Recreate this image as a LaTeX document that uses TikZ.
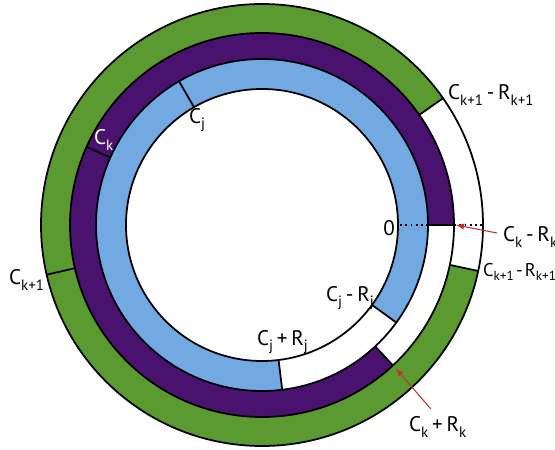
\documentclass[tikz,border=0pt]{standalone}
\usepackage{fontspec}
\setmainfont{PT Sans}
\usepackage{tikz}
\usetikzlibrary{arrows,calc,positioning}
\tikzset{>=latex}
\definecolor{ringgreen}{RGB}{90,154,48}
\definecolor{ringpurple}{RGB}{73,18,110}
\definecolor{ringblue}{RGB}{114,169,227}
\definecolor{arrowred}{RGB}{196,48,48}
\newcommand{\lowidx}[1]{\raisebox{-0.5ex}{\fontsize{8.5}{10}\selectfont #1}}
\newcommand{\smallidx}[1]{\raisebox{-0.5ex}{\fontsize{7.5}{9}\selectfont #1}}
\newcommand{\ringfont}{\fontsize{12}{14}\selectfont\spaceskip 0.18em\relax}
\newcommand{\edgefont}{\fontsize{10.5}{12}\selectfont\spaceskip 0.12em\relax}
\tikzset{
  ringline/.style={draw=black, line width=1pt},
  ringlabel/.style={anchor=west, inner sep=1pt, font=\ringfont},
  pointer/.style={->, draw=arrowred, line width=0.6pt}
}

\begin{document}
\begin{tikzpicture}[scale=0.02]
      \useasboundingbox (-262,-225) rectangle (293,225); %
      % coloured bands
      \fill[ringgreen] (35:221) arc[start angle=35, end angle=348, radius=221]
        -- (348:192) arc[start angle=348, end angle=35, radius=192] -- cycle; %
      \fill[ringpurple] (0:192) arc[start angle=0, end angle=313, radius=192]
        -- (313:166) arc[start angle=313, end angle=0, radius=166] -- cycle; %
      \fill[ringblue] (-36:166) arc[start angle=-36, end angle=277, radius=166]
        -- (277:136) arc[start angle=277, end angle=-36, radius=136] -- cycle; %
      % outlines and dividers
      \foreach \r in {136,166,192,221}
        \draw[ringline] (0,0) circle[radius=\r]; %
      \foreach \a/\ri/\ro in {120/136/166, -36/136/166, -83/136/166,
        156/166/192, -47/166/192, 0/166/192, 193/192/221, 35/192/221, -12/192/221}
        \draw[ringline] (\a:\ri) -- (\a:\ro); %
      \draw[dotted, line width=1pt] (0:138) -- (0:166) (0:192) -- (0:221); %
      % labels
      \node[ringlabel, anchor=east] (zero) at (135,-3) {0}; %
      \node[ringlabel] (cjtop) at (-75,105) {C\lowidx{j}}; %
      \node[ringlabel, text=white] (cktop) at (-170,85) {C\lowidx{k}}; %
      \node[ringlabel] (cnext) at (-255,-55) {C\lowidx{k+1}}; %
      \node[ringlabel] (cjminus) at (62,-73) {C\lowidx{j} - R\lowidx{j}}; %
      \node[ringlabel] (cjplus) at (-7,-117) {C\lowidx{j} + R\lowidx{j}}; %
      \node[ringlabel] (ckminus) at (239,-12) {C\lowidx{k} - R\lowidx{k}}; %
      \node[ringlabel] (ckplus) at (145,-202) {C\lowidx{k} + R\lowidx{k}}; %
      \node[ringlabel] (cnextup) at (184,130) {C\lowidx{k+1} - R\lowidx{k+1}}; %
      \node[ringlabel, font=\edgefont] (cnextlow) at (219,-47)
        {C\smallidx{k+1} - R\smallidx{k+1}}; %
      % pointers
      \coordinate (ckminustip) at (0:194); %
      \coordinate (ckplustip) at (-47:196); %
      \draw[pointer] ($(ckminus.west)+(-4,4)$) -- (ckminustip); %
      \draw[pointer] ($(ckplus.north)+(-7,6)$) -- (ckplustip); %
    \end{tikzpicture}
\end{document}
